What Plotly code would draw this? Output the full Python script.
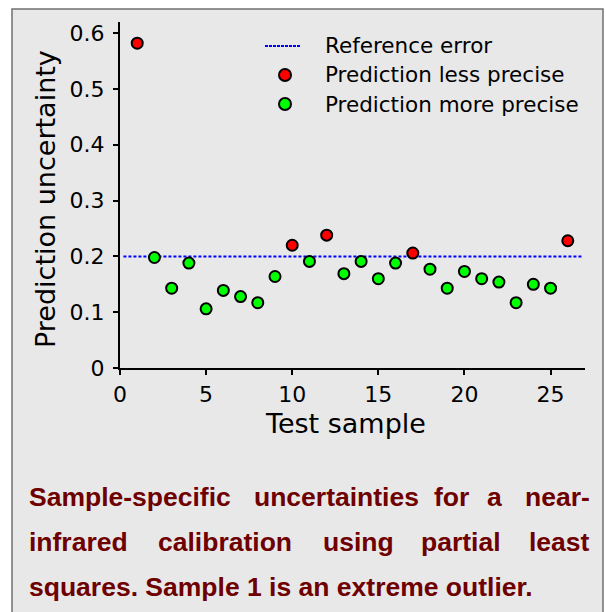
import plotly.graph_objects as go

# ---------------- data ----------------
samples = list(range(1, 27))
uncertainty = [0.582, 0.198, 0.143, 0.188, 0.106, 0.139, 0.128, 0.117, 0.164, 0.220,
               0.191, 0.238, 0.169, 0.191, 0.160, 0.188, 0.206, 0.177, 0.143, 0.173,
               0.160, 0.154, 0.117, 0.150, 0.143, 0.228]
reference_error = 0.2
ref_line_x = [0.2, 26.8]
x_ticks = [0, 5, 10, 15, 20, 25]
y_ticks = [0, 0.1, 0.2, 0.3, 0.4, 0.5, 0.6]
legend_names = ["Reference error", "Prediction less precise", "Prediction more precise"]
caption_lines = [
    ["Sample-specific", "uncertainties", "for", "a", "near-"],
    ["infrared", "calibration", "using", "partial", "least"],
    ["squares. Sample 1 is an extreme outlier."],
]

less_x = [s for s, u in zip(samples, uncertainty) if u > reference_error]
less_y = [u for u in uncertainty if u > reference_error]
more_x = [s for s, u in zip(samples, uncertainty) if u <= reference_error]
more_y = [u for u in uncertainty if u <= reference_error]

# ---------------- layout geometry ----------------
W, H = 606, 612
L, R, T, B = 120, 21, 22, 244
PW, PH = W - L - R, H - T - B


def px(x):
    return (x - L) / PW


def py(y):
    return (H - B - y) / PH


FONT = "DejaVu Sans"
CAP_FONT = "Liberation Sans"
CAP_COLOR = "#6e0000"
BLUE, RED, GREEN = "#0000ff", "#ff0000", "#00ff00"

fig = go.Figure()
fig.add_trace(go.Scatter(
    x=ref_line_x, y=[reference_error] * len(ref_line_x), mode="lines",
    name=legend_names[0], line=dict(color=BLUE, width=2, dash="3px,2px"),
))
fig.add_trace(go.Scatter(
    x=less_x, y=less_y, mode="markers", name=legend_names[1],
    marker=dict(color=RED, size=11, line=dict(color="black", width=2)),
))
fig.add_trace(go.Scatter(
    x=more_x, y=more_y, mode="markers", name=legend_names[2],
    marker=dict(color=GREEN, size=11, line=dict(color="black", width=2)),
))

axis_common = dict(
    showgrid=False, zeroline=False, showline=True, linecolor="black", linewidth=2,
    ticks="outside", ticklen=5, tickwidth=2, tickcolor="black",
    tickfont=dict(family=FONT, size=22, color="black"),
)
fig.update_xaxes(range=[0, 27], tickvals=x_ticks, ticklabelstandoff=1, **axis_common)
fig.update_yaxes(range=[0, 0.62], tickvals=y_ticks, ticklabelstandoff=4, **axis_common)

annotations = [
    dict(text="Test sample", x=px(345), y=py(423), xref="paper", yref="paper",
         showarrow=False, xanchor="center", yanchor="middle",
         font=dict(family=FONT, size=27, color="black")),
    dict(text="Prediction uncertainty", x=px(45), y=py(199), xref="paper", yref="paper",
         showarrow=False, xanchor="center", yanchor="middle", textangle=-90,
         font=dict(family=FONT, size=27, color="black")),
]

# legend (drawn by hand to match the original's spacing)
legend_rows = [46, 75, 104]
shapes = [dict(type="rect", xref="paper", yref="paper", layer="below",
               x0=px(12), x1=px(603), y0=py(640), y1=py(9),
               fillcolor="#e8e8e8", line=dict(color="#707070", width=1.5))]
shapes.append(dict(type="line", xref="paper", yref="paper",
                   x0=px(265), x1=px(301), y0=py(legend_rows[0]), y1=py(legend_rows[0]),
                   line=dict(color=BLUE, width=2, dash="3px,1px")))
for rowy, col in zip(legend_rows[1:], [RED, GREEN]):
    shapes.append(dict(type="circle", xref="paper", yref="paper",
                       x0=px(285 - 6), x1=px(285 + 6), y0=py(rowy + 6), y1=py(rowy - 6),
                       fillcolor=col, line=dict(color="black", width=2)))
for name, rowy in zip(legend_names, legend_rows):
    annotations.append(dict(text=name, x=px(323), y=py(rowy), xref="paper", yref="paper",
                            showarrow=False, xanchor="left", yanchor="middle",
                            font=dict(family=FONT, size=21.5, color="black")))

# justified caption: word left edges (pixels) per line
word_left = [[27, 252, 432, 485, None], [27, 156, 321, 419, None], [27]]
line_y = [497, 542, 587]
right_edge = 592
for words, lefts, yy in zip(caption_lines, word_left, line_y):
    for w, lx in zip(words, lefts):
        if lx is None:
            a = dict(x=px(right_edge), xanchor="right")
        else:
            a = dict(x=px(lx), xanchor="left")
        a.update(text="<b>%s</b>" % w, y=py(yy), yanchor="middle", xref="paper",
                 yref="paper", showarrow=False,
                 font=dict(family=CAP_FONT, size=26.5, color=CAP_COLOR))
        annotations.append(a)

fig.update_layout(
    width=W, height=H,
    margin=dict(l=L, r=R, t=T, b=B, pad=0),
    paper_bgcolor="white", plot_bgcolor="rgba(0,0,0,0)",
    showlegend=False,
    shapes=shapes,
    annotations=annotations,
)

fig.write_html("out.html", config={"displayModeBar": False},
               post_script="document.body.style.margin='0';document.body.style.overflow='hidden';")
